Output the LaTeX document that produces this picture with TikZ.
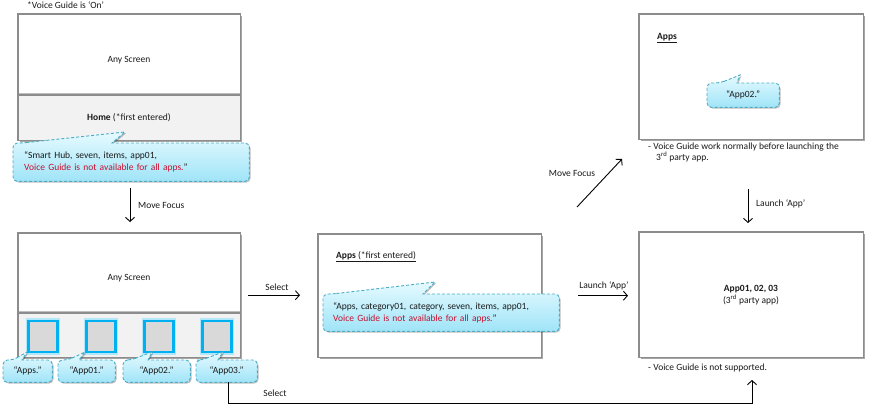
\documentclass[tikz,border=0pt]{standalone}
\usepackage{fontspec}
\setmainfont{Carlito}
\usetikzlibrary{arrows.meta,shadows,calc}

\definecolor{frame}{HTML}{8C8C8C}
\definecolor{panel}{HTML}{F2F2F2}
\definecolor{bubbleline}{HTML}{4BACC6}
\definecolor{bubbletop}{HTML}{E6FAFF}
\definecolor{bubblebot}{HTML}{9FE4F8}
\definecolor{warn}{HTML}{C8102E}
\definecolor{tile}{HTML}{D9D9D9}
\definecolor{tileline}{HTML}{00B0F0}
\definecolor{ink}{HTML}{1A1A1A}

\tikzset{
  x=1pt, y=-1pt,
  every node/.style={font=\fontsize{9.5}{12}\selectfont, text=ink, inner sep=0pt},
  screen/.style={anchor=north west, fill=white, minimum width=#1,
    drop shadow={shadow xshift=1.8pt, shadow yshift=-1.8pt, opacity=0.35, fill=black}},
  outline/.style={draw=frame, line width=1.1pt},
  panelbar/.style={anchor=north west, fill=panel, minimum width=222pt},
  divider/.style={draw=black!45, line width=2.6pt},
  dividerhi/.style={draw=black!25, line width=0.8pt},
  slot/.style={anchor=north west},
  bubble/.style={draw=bubbleline, line width=0.9pt, dash pattern=on 3pt off 2pt,
    top color=bubbletop, bottom color=bubblebot,
    drop shadow={shadow xshift=1.2pt, shadow yshift=-1.2pt, opacity=0.25, fill=black}},
  tilebox/.style={draw=tileline, line width=2.6pt, fill=tile, minimum width=29pt,
    minimum height=31pt, preaction={draw=tileline!30, line width=5.5pt}},
  arr/.style={draw=black, line width=0.9pt, -{Straight Barb[length=4pt,width=9pt]}},
  lbl/.style={},
}

\newcommand{\roundr}{4.5pt}

\begin{document}
\begin{tikzpicture}
\useasboundingbox (0,0) rectangle (870,404);
\fill[white] (0,0) rectangle (870,404);

% ---------- left column: Home screen ----------
\node[lbl, anchor=west] (vgon) at (27,5) {*Voice Guide is ‘On’};

\node[screen=222pt, minimum height=126pt] (home) at (18,14) {};
\node[panelbar, minimum height=45pt] (homebar) at (18,95) {};
\draw[dividerhi] ([yshift=1.6pt]homebar.north west) -- ([yshift=1.6pt]homebar.north east);
\draw[divider] (homebar.north west) -- (homebar.north east);
\draw[outline] (home.north west) rectangle (home.south east);
\node (homeany) at (129,60) {Any Screen};
\node (hometitle) at (129,118) {\textbf{Home} (*first entered)};

\node[slot, minimum width=236pt, minimum height=38pt] (c1) at (13,143) {};
\path[bubble] ($(c1.north west)+(9,0)$) -- (125,132) -- ($(c1.north west)+(99,0)$)
  [rounded corners=\roundr] -- (c1.north east) -- (c1.south east) -- (c1.south west)
  -- (c1.north west) -- cycle;
\node[align=left, text width=214pt] (c1t) at (c1.center)
  {“Smart Hub, seven, items, app01,\\\textcolor{warn}{Voice Guide is not available for all apps.}”};

% ---------- left column: screen with tiles ----------
\node[screen=222pt, minimum height=124pt] (tiles) at (18,233) {};
\node[panelbar, minimum height=44pt] (tilesbar) at (18,313) {};
\draw[dividerhi] ([yshift=1.6pt]tilesbar.north west) -- ([yshift=1.6pt]tilesbar.north east);
\draw[divider] (tilesbar.north west) -- (tilesbar.north east);
\draw[outline] (tiles.north west) rectangle (tiles.south east);
\node (tilesany) at (129,278) {Any Screen};

\node[tilebox] (t0) at (43,336.5) {};
\node[tilebox] (t1) at (101,336.5) {};
\node[tilebox] (t2) at (159,336.5) {};
\node[tilebox] (t3) at (217,336.5) {};

% small spoken-label bubbles under the tiles
\node[slot, minimum width=49pt, minimum height=22pt] (s0) at (3,360) {};
\path[bubble] ($(s0.north west)+(10,0)$) -- (27,352) -- ($(s0.north west)+(19,0)$)
  [rounded corners=\roundr] -- (s0.north east) -- (s0.south east) -- (s0.south west)
  -- (s0.north west) -- cycle;
\node (s0t) at (s0.center) {“Apps.”};

\node[slot, minimum width=57pt, minimum height=22pt] (s1) at (58,360) {};
\path[bubble] ($(s1.north west)+(10,0)$) -- (85,352) -- ($(s1.north west)+(21,0)$)
  [rounded corners=\roundr] -- (s1.north east) -- (s1.south east) -- (s1.south west)
  -- (s1.north west) -- cycle;
\node (s1t) at (s1.center) {“App01.”};

\node[slot, minimum width=67pt, minimum height=22pt] (s2) at (123,360) {};
\path[bubble] ($(s2.north west)+(8,0)$) -- (152,352) -- ($(s2.north west)+(25,0)$)
  [rounded corners=\roundr] -- (s2.north east) -- (s2.south east) -- (s2.south west)
  -- (s2.north west) -- cycle;
\node (s2t) at (s2.center) {“App02.”};

\node[slot, minimum width=61pt, minimum height=22pt] (s3) at (196,360) {};
\path[bubble] ($(s3.north west)+(6,0)$) -- (223,352) -- ($(s3.north west)+(22,0)$)
  [rounded corners=\roundr] -- (s3.north east) -- (s3.south east) -- (s3.south west)
  -- (s3.north west) -- cycle;
\node (s3t) at (s3.center) {“App03.”};

% ---------- middle: Apps (first entered) ----------
\node[screen=223pt, minimum height=123pt] (apps) at (318,234) {};
\draw[outline] (apps.north west) rectangle (apps.south east);
\node[anchor=west] (appstitle) at (336,257) {\underline{\textbf{Apps} (*first entered)}};

\node[slot, minimum width=236pt, minimum height=37pt] (c3) at (323,294) {};
\path[bubble] ($(c3.north west)+(9,0)$) -- (435,282) -- ($(c3.north west)+(100,0)$)
  [rounded corners=\roundr] -- (c3.north east) -- (c3.south east) -- (c3.south west)
  -- (c3.north west) -- cycle;
\node[align=left, text width=216pt] (c3t) at (c3.center)
  {“Apps, category01, category, seven, items, app01,\\\textcolor{warn}{Voice Guide is not available for all apps.}”};

% ---------- right column: Apps with focus ----------
\node[screen=224pt, minimum height=125pt] (appsfocus) at (639,14) {};
\draw[outline] (appsfocus.north west) rectangle (appsfocus.south east);
\node[anchor=west] (aftitle) at (657,38) {\underline{\textbf{Apps}}};

\node[slot, minimum width=72pt, minimum height=24pt] (c4) at (707,83) {};
\path[bubble] ($(c4.north west)+(13,0)$) -- (740,75) -- ($(c4.north west)+(30,0)$)
  [rounded corners=\roundr] -- (c4.north east) -- (c4.south east) -- (c4.south west)
  -- (c4.north west) -- cycle;
\node (c4t) at (c4.center) {“App02.”};

\node[anchor=north west, align=left, font=\fontsize{9.5}{11}\selectfont] (note4) at (648,143)
  {- Voice Guide work normally before launching the\\\hspace*{8pt}3\textsuperscript{rd} party app.};

% ---------- right column: third-party app ----------
\node[screen=224pt, minimum height=125pt] (thirdparty) at (639,232) {};
\draw[outline] (thirdparty.north west) rectangle (thirdparty.south east);
\node (tptitle) at (751,289) {\textbf{App01, 02, 03}};
\node (tpsub) at (751,300) {(3\textsuperscript{rd} party app)};
\node[anchor=west] (note5) at (648,368) {- Voice Guide is not supported.};

% ---------- connectors ----------
\draw[arr, shorten <=7pt, shorten >=11pt] (c1.south -| 130,0) -- (tiles.north -| 130,0);
\node[anchor=west] (mf1) at (138,205) {Move Focus};

\draw[arr, shorten <=8pt, shorten >=18pt] (tiles.east) -- (tiles.east -| apps.west);
\node (sel1) at (277,287) {Select};

\draw[arr, shorten <=37pt, shorten >=11pt] (apps.east) -- (apps.east -| thirdparty.west);
\node (la1) at (604,286) {Launch ‘App’};

\coordinate (mfa) at (577,207);
\coordinate (mfb) at (622,159);
\draw[arr] (mfa) -- (mfb);
\node (mf2) at (572,173) {Move Focus};

\coordinate (lab) at (748,189);
\coordinate (lae) at (748,223);
\draw[arr] (lab) -- (lae);
\node[anchor=west] (la2) at (756,204) {Launch ‘App’};

\coordinate (selbot) at (752,403);
\coordinate (selend) at (752,380);
\draw[arr] ([xshift=1.5pt]s3.south) |- (selbot) -- (selend);
\node (sel2) at (275,393) {Select};

\end{tikzpicture}
\end{document}
